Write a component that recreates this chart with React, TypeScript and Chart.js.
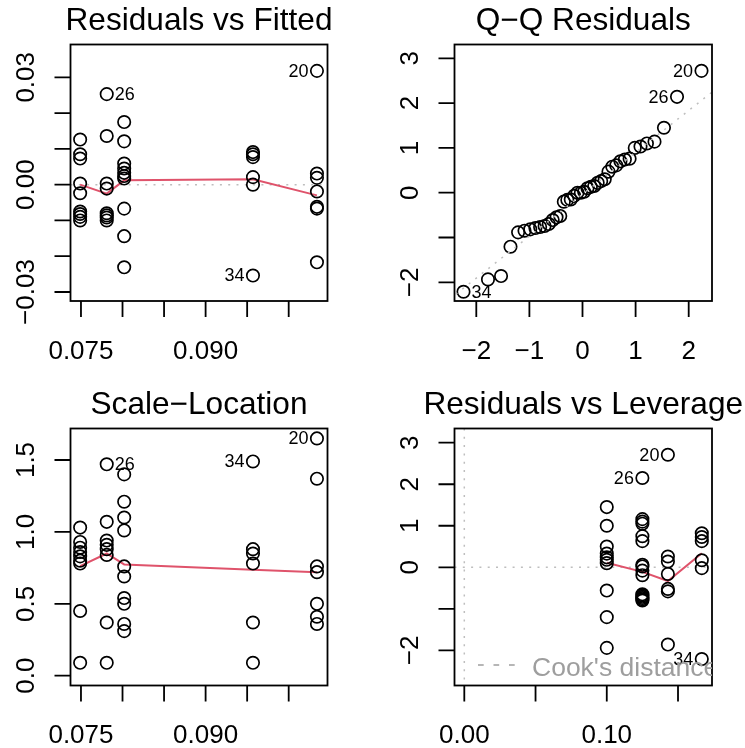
import React, { useEffect, useRef } from "react";
import { Chart, registerables } from "chart.js";

Chart.register(...registerables);

const W = 745;
const H = 748;
const FONT = '"Liberation Sans", Arial, Helvetica, sans-serif';

// ---------- Panel 1: Residuals vs Fitted ----------
const fittedLevels = [0.0749, 0.0781, 0.0802, 0.0957, 0.1034];
const residGroup1 = [0.0126, 0.0085, 0.0073, 0.0003, -0.0024, -0.0075, -0.0082, -0.0090, -0.0100];
const residGroup2 = [0.0253, 0.0136, 0.0003, -0.0011, -0.0080, -0.0086, -0.0092, -0.0100];
const residGroup3 = [0.0175, 0.0121, 0.0059, 0.0045, 0.0033, 0.0024, 0.0017, -0.0067, -0.0144, -0.0231];
const residGroup4 = [0.0091, 0.0085, 0.0077, 0.0021, 0.0000, -0.0254];
const residGroup5 = [0.0318, 0.0031, 0.0019, -0.0019, -0.0062, -0.0067, -0.0217];
const residSmooth = [0.0000, -0.0025, 0.0012, 0.0015, -0.0030];

// ---------- Panel 2: Q-Q Residuals ----------
const qqTheoretical = [
  -2.241, -1.780, -1.534, -1.356, -1.213, -1.092, -0.984, -0.887, -0.798, -0.714,
  -0.636, -0.561, -0.489, -0.419, -0.352, -0.286, -0.221, -0.157, -0.094, -0.031,
  0.031, 0.094, 0.157, 0.221, 0.286, 0.352, 0.419, 0.489, 0.561, 0.636,
  0.714, 0.798, 0.887, 0.984, 1.092, 1.213, 1.356, 1.534, 1.780, 2.241,
];
const qqSample = [
  -2.21, -1.935, -1.86, -1.205, -0.885, -0.848, -0.818, -0.789, -0.766, -0.744,
  -0.699, -0.61, -0.55, -0.52, -0.2, -0.16, -0.15, -0.07, 0.0, 0.0,
  0.02, 0.1, 0.13, 0.15, 0.22, 0.26, 0.3, 0.47, 0.58, 0.61,
  0.7, 0.74, 0.76, 1.0, 1.03, 1.1, 1.14, 1.45, 2.14, 2.72,
];
const qqLineX = [-3, 3];
const qqLineY = [-2.84, 2.77];

// ---------- Panel 3: Scale-Location ----------
const slGroup1 = [1.03, 0.93, 0.89, 0.86, 0.83, 0.8, 0.78, 0.45, 0.09];
const slGroup2 = [1.47, 1.07, 0.94, 0.91, 0.88, 0.84, 0.37, 0.09];
const slGroup3 = [1.4, 1.21, 1.1, 1.01, 0.76, 0.69, 0.54, 0.5, 0.36, 0.31];
const slGroup4 = [1.49, 0.88, 0.85, 0.78, 0.37, 0.09];
const slGroup5 = [1.65, 1.37, 0.76, 0.72, 0.5, 0.41, 0.36];
const slSmooth = [0.762, 0.85, 0.774, 0.737, 0.719];

// ---------- Panel 4: Residuals vs Leverage ----------
const leverageLevels = [0.1, 0.125, 0.1429, 0.1667];
const stdResLev1 = [1.45, 1.0, 0.5, 0.33, 0.24, 0.18, 0.1, -0.56, -1.2, -1.94];
const stdResLev2 = [2.15, 1.16, 1.1, 1.05, 0.75, 0.63, 0.06, 0.02, -0.08, -0.19, -0.65, -0.68, -0.71, -0.74, -0.77, -0.8];
const stdResLev3 = [2.71, 0.26, 0.14, -0.16, -0.52, -0.58, -1.86];
const stdResLev4 = [0.82, 0.73, 0.63, 0.17, -0.02, -2.21];
const levSmooth = [0.11, -0.11, -0.33, 0.34];

// ---------- Tick labels ----------
const fittedTicks = [0.075, 0.08, 0.085, 0.09, 0.095, 0.1];
const fittedTickLabels = ["0.075", "", "", "0.090", "", ""];
const residTicks = [-0.03, -0.02, -0.01, 0, 0.01, 0.02, 0.03];
const residTickLabels = ["\u22120.03", "", "", "0.00", "", "", "0.03"];
const qqXTicks = [-2, -1, 0, 1, 2];
const qqXTickLabels = ["\u22122", "\u22121", "0", "1", "2"];
const stdTicks = [-2, -1, 0, 1, 2, 3];
const stdTickLabels = ["\u22122", "", "0", "1", "2", "3"];
const slTicks = [0, 0.5, 1, 1.5];
const slTickLabels = ["0.0", "0.5", "1.0", "1.5"];
const levTicks = [0, 0.05, 0.1, 0.15];
const levTickLabels = ["0.00", "", "0.10", ""];

type Box = { l: number; r: number; t: number; b: number };
type PtLabel = { text: string; x: number; y: number; side: "left" | "right" };

type PanelCfg = {
  box: Box;
  title: string;
  xRange: [number, number];
  yRange: [number, number];
  xTicks: number[];
  xLabels: string[];
  yTicks: number[];
  yLabels: string[];
  hRef?: number;
  vRef?: number;
  cook?: boolean;
  labels: PtLabel[];
  datasets: any[];
};

const pointStyle = {
  showLine: false,
  pointRadius: 6.2,
  pointBorderWidth: 1.7,
  pointBorderColor: "#000000",
  pointBackgroundColor: "rgba(0,0,0,0)",
  pointHoverRadius: 6.2,
};

const smoothStyle = {
  showLine: true,
  borderColor: "#DF536B",
  borderWidth: 2,
  pointRadius: 0,
  fill: false,
  tension: 0,
  clip: 0,
};

function groupPoints(xs: number[], groups: number[][]) {
  const out: { x: number; y: number }[] = [];
  groups.forEach((g, i) => g.forEach((y) => out.push({ x: xs[i], y })));
  return out;
}

function makePlugin(cfg: PanelCfg) {
  return {
    id: "rPanel",
    beforeDatasetsDraw(chart: any) {
      const ctx = chart.ctx;
      const a = chart.chartArea;
      const xs = chart.scales.x;
      const ys = chart.scales.y;
      ctx.save();
      ctx.beginPath();
      ctx.rect(a.left, a.top, a.right - a.left, a.bottom - a.top);
      ctx.clip();
      ctx.strokeStyle = "#BEBEBE";
      ctx.lineWidth = 1.5;
      ctx.setLineDash([2, 6.3]);
      if (cfg.hRef !== undefined) {
        const py = ys.getPixelForValue(cfg.hRef);
        ctx.beginPath();
        ctx.moveTo(a.left, py);
        ctx.lineTo(a.right, py);
        ctx.stroke();
      }
      if (cfg.vRef !== undefined) {
        const px = xs.getPixelForValue(cfg.vRef);
        ctx.beginPath();
        ctx.moveTo(px, a.top);
        ctx.lineTo(px, a.bottom);
        ctx.stroke();
      }
      ctx.restore();
    },
    afterDatasetsDraw(chart: any) {
      const ctx = chart.ctx;
      const a = chart.chartArea;
      const xs = chart.scales.x;
      const ys = chart.scales.y;
      ctx.save();
      // box
      ctx.strokeStyle = "#000";
      ctx.lineWidth = 1.8;
      ctx.setLineDash([]);
      ctx.strokeRect(a.left, a.top, a.right - a.left, a.bottom - a.top);
      // x ticks
      const tl = 16;
      ctx.beginPath();
      cfg.xTicks.forEach((v) => {
        const px = xs.getPixelForValue(v);
        ctx.moveTo(px, a.bottom);
        ctx.lineTo(px, a.bottom + tl);
      });
      cfg.yTicks.forEach((v) => {
        const py = ys.getPixelForValue(v);
        ctx.moveTo(a.left, py);
        ctx.lineTo(a.left - tl, py);
      });
      ctx.stroke();
      // tick labels
      ctx.fillStyle = "#000";
      ctx.font = `26px ${FONT}`;
      ctx.textAlign = "center";
      ctx.textBaseline = "alphabetic";
      cfg.xTicks.forEach((v, i) => {
        const s = cfg.xLabels[i];
        if (!s) return;
        ctx.fillText(s, xs.getPixelForValue(v), a.bottom + 57.5);
      });
      cfg.yTicks.forEach((v, i) => {
        const s = cfg.yLabels[i];
        if (!s) return;
        ctx.save();
        ctx.translate(a.left - 37, ys.getPixelForValue(v));
        ctx.rotate(-Math.PI / 2);
        ctx.fillText(s, 0, 0);
        ctx.restore();
      });
      // title
      ctx.font = `31.6px ${FONT}`;
      ctx.fillText(cfg.title, (a.left + a.right) / 2, a.top - 15);
      // point labels
      ctx.font = `18px ${FONT}`;
      ctx.textBaseline = "middle";
      cfg.labels.forEach((lb) => {
        const px = xs.getPixelForValue(lb.x);
        const py = ys.getPixelForValue(lb.y);
        if (lb.side === "left") {
          ctx.textAlign = "right";
          ctx.fillText(lb.text, px - 8.5, py + 1);
        } else {
          ctx.textAlign = "left";
          ctx.fillText(lb.text, px + 8, py + 1);
        }
      });
      // Cook's distance legend
      if (cfg.cook) {
        ctx.save();
        ctx.beginPath();
        ctx.rect(a.left, a.top, a.right - a.left, a.bottom - a.top);
        ctx.clip();
        ctx.strokeStyle = "#9E9E9E";
        ctx.lineWidth = 1.6;
        ctx.setLineDash([5.7, 9.8]);
        ctx.beginPath();
        ctx.moveTo(a.left + 23.5, a.bottom - 20.5);
        ctx.lineTo(a.left + 65, a.bottom - 20.5);
        ctx.stroke();
        ctx.fillStyle = "#9E9E9E";
        ctx.font = `26.5px ${FONT}`;
        ctx.textAlign = "left";
        ctx.textBaseline = "alphabetic";
        ctx.fillText("Cook's distance", a.left + 77.5, a.bottom - 10);
        ctx.restore();
      }
      ctx.restore();
    },
  };
}

const panels: PanelCfg[] = [
  {
    box: { l: 70.5, r: 327.5, t: 44.5, b: 301 },
    title: "Residuals vs Fitted",
    xRange: [0.07374, 0.10467],
    yRange: [-0.03252, 0.03917],
    xTicks: fittedTicks,
    xLabels: fittedTickLabels,
    yTicks: residTicks,
    yLabels: residTickLabels,
    hRef: 0,
    labels: [
      { text: "26", x: fittedLevels[1], y: residGroup2[0], side: "right" },
      { text: "20", x: fittedLevels[4], y: residGroup5[0], side: "left" },
      { text: "34", x: fittedLevels[3], y: residGroup4[5], side: "left" },
    ],
    datasets: [
      {
        ...pointStyle,
        data: groupPoints(fittedLevels, [residGroup1, residGroup2, residGroup3, residGroup4, residGroup5]),
      },
      { ...smoothStyle, data: fittedLevels.map((x, i) => ({ x, y: residSmooth[i] })) },
    ],
  },
  {
    box: { l: 454.5, r: 712, t: 44.5, b: 301 },
    title: "Q\u2212Q Residuals",
    xRange: [-2.4105, 2.4388],
    yRange: [-2.417, 3.308],
    xTicks: qqXTicks,
    xLabels: qqXTickLabels,
    yTicks: stdTicks,
    yLabels: stdTickLabels,
    labels: [
      { text: "20", x: qqTheoretical[39], y: qqSample[39], side: "left" },
      { text: "26", x: qqTheoretical[38], y: qqSample[38], side: "left" },
      { text: "34", x: qqTheoretical[0], y: qqSample[0], side: "right" },
    ],
    datasets: [
      {
        showLine: true,
        borderColor: "#BEBEBE",
        borderWidth: 1.5,
        borderDash: [2, 6.3],
        pointRadius: 0,
        clip: 0,
        data: qqLineX.map((x, i) => ({ x, y: qqLineY[i] })),
      },
      { ...pointStyle, data: qqTheoretical.map((x, i) => ({ x, y: qqSample[i] })) },
    ],
  },
  {
    box: { l: 70.5, r: 327.5, t: 428.5, b: 685.5 },
    title: "Scale\u2212Location",
    xRange: [0.07374, 0.10467],
    yRange: [-0.068, 1.719],
    xTicks: fittedTicks,
    xLabels: fittedTickLabels,
    yTicks: slTicks,
    yLabels: slTickLabels,
    labels: [
      { text: "26", x: fittedLevels[1], y: slGroup2[0], side: "right" },
      { text: "34", x: fittedLevels[3], y: slGroup4[0], side: "left" },
      { text: "20", x: fittedLevels[4], y: slGroup5[0], side: "left" },
    ],
    datasets: [
      {
        ...pointStyle,
        data: groupPoints(fittedLevels, [slGroup1, slGroup2, slGroup3, slGroup4, slGroup5]),
      },
      { ...smoothStyle, data: fittedLevels.map((x, i) => ({ x, y: slSmooth[i] })) },
    ],
  },
  {
    box: { l: 454.5, r: 712, t: 428.5, b: 685.5 },
    title: "Residuals vs Leverage",
    xRange: [-0.00688, 0.17386],
    yRange: [-2.846, 3.342],
    xTicks: levTicks,
    xLabels: levTickLabels,
    yTicks: stdTicks,
    yLabels: stdTickLabels,
    hRef: 0,
    vRef: 0,
    cook: true,
    labels: [
      { text: "20", x: leverageLevels[2], y: stdResLev3[0], side: "left" },
      { text: "26", x: leverageLevels[1], y: stdResLev2[0], side: "left" },
      { text: "34", x: leverageLevels[3], y: stdResLev4[5], side: "left" },
    ],
    datasets: [
      {
        ...pointStyle,
        data: groupPoints(leverageLevels, [stdResLev1, stdResLev2, stdResLev3, stdResLev4]),
      },
      { ...smoothStyle, data: leverageLevels.map((x, i) => ({ x, y: levSmooth[i] })) },
    ],
  },
];

function Panel({ cfg }: { cfg: PanelCfg }) {
  const ref = useRef<HTMLCanvasElement | null>(null);
  useEffect(() => {
    if (!ref.current) return;
    const b = cfg.box;
    const chart = new Chart(ref.current, {
      type: "scatter",
      data: { datasets: cfg.datasets },
      options: {
        animation: false,
        responsive: false,
        maintainAspectRatio: false,
        devicePixelRatio: 1,
        events: [],
        layout: { padding: { left: b.l, top: b.t, right: W - b.r, bottom: H - b.b } },
        scales: {
          x: { type: "linear", display: false, min: cfg.xRange[0], max: cfg.xRange[1] },
          y: { type: "linear", display: false, min: cfg.yRange[0], max: cfg.yRange[1] },
        },
        plugins: { legend: { display: false }, tooltip: { enabled: false } },
      } as any,
      plugins: [makePlugin(cfg) as any],
    });
    return () => chart.destroy();
  }, [cfg]);
  return (
    <canvas
      ref={ref}
      width={W}
      height={H}
      style={{ position: "absolute", left: 0, top: 0, width: W, height: H }}
    />
  );
}

export default function App() {
  return (
    <div style={{ position: "fixed", left: 0, top: 0, width: W, height: H, background: "#fff", overflow: "hidden" }}>
      {panels.map((p, i) => (
        <Panel key={i} cfg={p} />
      ))}
    </div>
  );
}
